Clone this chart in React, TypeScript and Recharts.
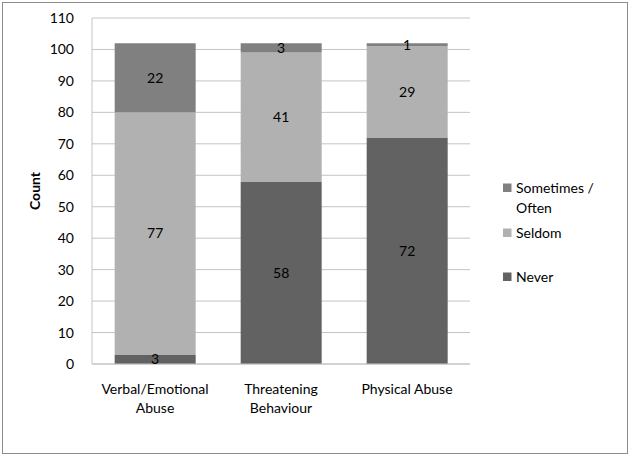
import React from 'react';
import { BarChart, Bar, XAxis, YAxis, CartesianGrid, LabelList, Legend } from 'recharts';

const categories = ['Verbal/Emotional Abuse', 'Threatening Behaviour', 'Physical Abuse'];
const categoryLines = [['Verbal/Emotional', 'Abuse'], ['Threatening', 'Behaviour'], ['Physical Abuse']];
const never = [3, 58, 72];
const seldom = [77, 41, 29];
const sometimes = [22, 3, 1];
const yTicks = [0, 10, 20, 30, 40, 50, 60, 70, 80, 90, 100, 110];

const data = categories.map((c, i) => ({
  name: c,
  idx: i,
  never: never[i],
  seldom: seldom[i],
  sometimes: sometimes[i],
}));

const FONT = 'Lato, "Liberation Sans", sans-serif';
const FS = 14;
const COLORS = { never: '#626262', seldom: '#b1b1b1', sometimes: '#808080' };

const XTick = (props: any) => {
  const { x, y, payload } = props;
  const lines = categoryLines[payload.index] || [payload.value];
  return (
    <g>
      {lines.map((l: string, i: number) => (
        <text key={i} x={x} y={y + 22 + i * 19} textAnchor="middle" fontSize={FS} fontFamily={FONT} fill="#000">
          {l}
        </text>
      ))}
    </g>
  );
};

const legendItems = [
  { key: 'sometimes', lines: ['Sometimes /', 'Often'], cy: 188 },
  { key: 'seldom', lines: ['Seldom'], cy: 233 },
  { key: 'never', lines: ['Never'], cy: 277 },
];

const LegendContent = () => (
  <svg width={130} height={140} style={{ position: 'absolute', left: 500, top: 170 }}>
    {legendItems.map((it) => (
      <g key={it.key}>
        <rect x={3} y={it.cy - 170 - 4.5} width={8.5} height={8.5} fill={(COLORS as any)[it.key]} />
        {it.lines.map((l, i) => (
          <text key={i} x={16} y={it.cy - 170 + 5 + i * 20} fontSize={FS} fontFamily={FONT} fill="#000">
            {l}
          </text>
        ))}
      </g>
    ))}
  </svg>
);

export default function App() {
  return (
    <div style={{ position: 'absolute', left: 0, top: 0, width: 630, height: 456, background: '#fff' }}>
      <div style={{ position: 'absolute', left: 2, top: 2, width: 624, height: 450, border: '1px solid #8c8c8c' }} />
      <BarChart
        width={630}
        height={456}
        data={data}
        margin={{ top: 18, right: 160, left: 32, bottom: 42 }}
        barCategoryGap="18%"
      >
        <CartesianGrid vertical={false} stroke="#c4c4c4" />
        <XAxis
          dataKey="name"
          axisLine={{ stroke: '#c4c4c4' }}
          tickLine={false}
          tick={<XTick />}
          interval={0}
          height={50}
        />
        <YAxis
          domain={[0, 110]}
          ticks={yTicks}
          width={60}
          axisLine={{ stroke: '#c4c4c4' }}
          tickLine={false}
          tick={{ fontSize: FS, fontFamily: FONT, fill: '#000' }}
          tickMargin={12}
          label={{ value: 'Count', angle: -90, position: 'insideLeft', offset: 3, style: { fontSize: FS, fontFamily: FONT, fontWeight: 'bold', fill: '#000', textAnchor: 'middle' } }}
        />
        <Legend content={<LegendContent />} wrapperStyle={{ position: 'absolute', left: 0, top: 0 }} />
        <Bar dataKey="never" stackId="a" fill={COLORS.never} isAnimationActive={false} name="Never">
          <LabelList dataKey="never" position="center" fill="#000" fontSize={FS} fontFamily={FONT} />
        </Bar>
        <Bar dataKey="seldom" stackId="a" fill={COLORS.seldom} isAnimationActive={false} name="Seldom">
          <LabelList dataKey="seldom" position="center" fill="#000" fontSize={FS} fontFamily={FONT} />
        </Bar>
        <Bar dataKey="sometimes" stackId="a" fill={COLORS.sometimes} isAnimationActive={false} name="Sometimes / Often">
          <LabelList dataKey="sometimes" position="center" fill="#000" fontSize={FS} fontFamily={FONT} />
        </Bar>
      </BarChart>
    </div>
  );
}
